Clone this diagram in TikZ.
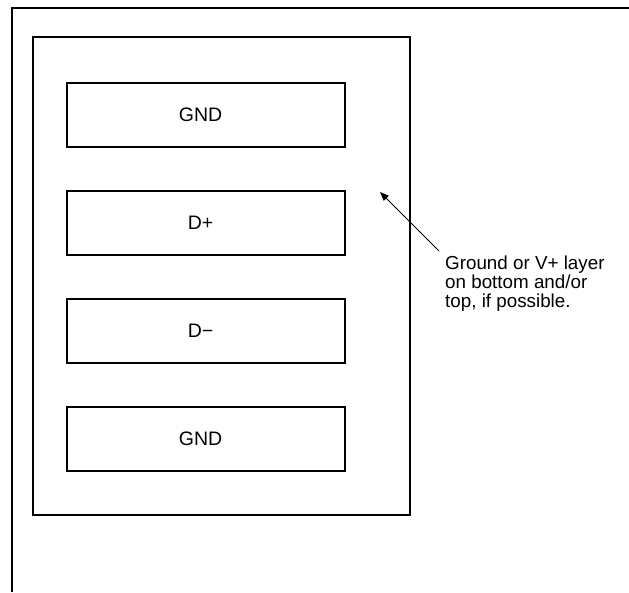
\documentclass[tikz,border=0pt]{standalone}
\usepackage{fontspec}
\setmainfont{Liberation Sans}
\usetikzlibrary{arrows.meta}
\tikzset{trace/.style={draw,line width=1.5pt,minimum width=278pt,minimum height=64pt,inner sep=0pt,font=\fontsize{19.5}{19.5}\selectfont,execute at begin node=\hspace*{-11pt}}}
\begin{document}
\begin{tikzpicture}
[x=1pt, y=-1pt]
\useasboundingbox (0,0) rectangle (629,592);
\draw[line width=1.5pt] (629,8)--(12,8)--(12,592);
\draw[line width=1.5pt] (33,37) rectangle (410,515);
\node[trace] (gndtop) at (206,115) {GND};
\node[trace] (dplus) at (206,223) {D+};
\node[trace] (dminus) at (206,331) {D−};
\node[trace] (gndbot) at (206,439) {GND};
\coordinate (tip) at (380,192); \coordinate (tail) at (439,251);
\draw[line width=1pt,-{Triangle[length=9pt,width=7pt]}] (tail)--(tip);
\node[anchor=west,align=left,inner sep=0pt,font=\fontsize{18.8}{19}\selectfont] (note) at (445,284) {Ground or V+ layer\\on bottom and/or\\top, if possible.};
\end{tikzpicture}
\end{document}
